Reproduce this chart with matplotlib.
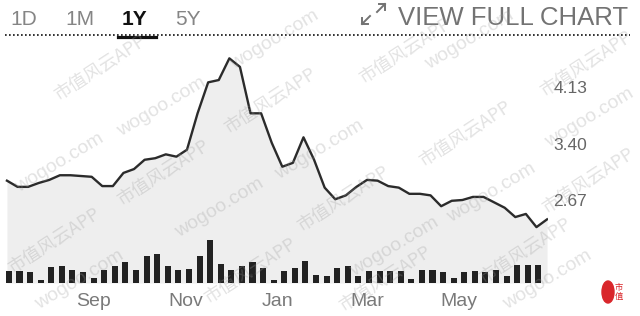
import matplotlib
matplotlib.use("Agg")
import matplotlib.pyplot as plt
import matplotlib.dates as mdates
import numpy as np
import pandas as pd
from matplotlib.lines import Line2D
from matplotlib.patches import Ellipse

# weekly closes and weekly volume
start_date = "2018-07-06"
prices = [2.92, 2.84, 2.84, 2.89, 2.93, 2.99, 2.99, 2.98, 2.97, 2.85,
          2.85, 3.02, 3.07, 3.19, 3.21, 3.26, 3.23, 3.32, 3.79, 4.19,
          4.22, 4.50, 4.39, 3.79, 3.79, 3.41, 3.10, 3.15, 3.48, 3.19,
          2.83, 2.68, 2.73, 2.84, 2.93, 2.92, 2.85, 2.83, 2.75, 2.75,
          2.73, 2.59, 2.66, 2.67, 2.71, 2.71, 2.64, 2.57, 2.45, 2.49,
          2.32, 2.42]
volumes = [12, 12, 11, 3, 16, 17, 13, 11, 5, 13, 17, 21, 13, 27, 29, 17,
           13, 14, 27, 43, 19, 13, 17, 21, 15, 3,
           12, 15, 22, 8, 7, 15, 17, 7, 12, 12, 12, 12, 4, 13, 13, 11,
           5, 11, 12, 11, 13, 7, 18, 18, 18]
price_ticks = [2.67, 3.40, 4.13]
ranges = ["1D", "1M", "1Y", "5Y"]
active_range = "1Y"

W, H = 640, 316


def fx(x):
    return x / W


def fy(y):
    # pixel rows counted from the top
    return 1 - y / H


dates = pd.date_range(start_date, periods=len(prices), freq="7D")
vol_dates = dates[:len(volumes)] + pd.Timedelta(hours=31)

fig = plt.figure(figsize=(W / 100, H / 100), dpi=100)
rect = [fx(5), fy(283), fx(543), 233 / H]

ax = fig.add_axes(rect)
ax.fill_between(dates, prices, 1.598, color="#eeeeee", lw=0)
ax.plot(dates, prices, color="#2b2b2b", lw=1.7, solid_joinstyle="round")
ax.set_ylim(1.598, 4.608)
ax.set_xlim(dates[0] - pd.Timedelta(hours=31), dates[-1] + pd.Timedelta(hours=15))
ax.yaxis.tick_right()
ax.set_yticks(price_ticks)
ax.set_yticklabels([f"{v:.2f}" for v in price_ticks])
ax.tick_params(axis="y", length=0, pad=4, labelsize=12.5, labelcolor="#666666")
ax.xaxis.set_major_locator(mdates.MonthLocator(bymonth=(1, 3, 5, 9, 11)))
ax.xaxis.set_major_formatter(mdates.DateFormatter("%b"))
ax.tick_params(axis="x", length=0, pad=7, labelsize=14, labelcolor="#7a7a7a")
for lab in ax.get_xticklabels() + ax.get_yticklabels():
    lab.set_family("Liberation Sans")
for s in ax.spines.values():
    s.set_visible(False)
ax.patch.set_visible(False)

axv = fig.add_axes(rect, sharex=ax)
axv.bar(vol_dates, volumes, width=4, color="#222222", align="center")
axv.set_ylim(0, 233)
axv.axis("off")

# range selector row
for label, x in zip(ranges, [10, 65, 122, 175]):
    on = label == active_range
    fig.text(fx(x), fy(25), label, fontsize=15, family="Liberation Sans",
             fontweight="bold" if on else "normal",
             color="#111111" if on else "#858585", va="baseline")
fig.text(fx(628), fy(25), "VIEW FULL CHART", fontsize=18.5,
         family="Liberation Sans", color="#737373", ha="right", va="baseline")
fig.add_artist(Line2D([fx(5), fx(630)], [fy(35), fy(35)], color="#111111",
                      lw=1.2, linestyle=(0, (1, 1.4))))
fig.add_artist(Line2D([fx(118), fx(156)], [fy(36.5), fy(36.5)],
                      color="#111111", lw=2.3))
fig.add_artist(Line2D([fx(362), fx(370)], [fy(24), fy(16)], color="#737373", lw=1.4))
fig.add_artist(Line2D([fx(377), fx(385)], [fy(12), fy(4)], color="#737373", lw=1.4))
fig.add_artist(Line2D([fx(362), fx(362), fx(368)], [fy(18), fy(24), fy(24)],
                      color="#737373", lw=1.4))
fig.add_artist(Line2D([fx(379), fx(385), fx(385)], [fy(4), fy(4), fy(10)],
                      color="#737373", lw=1.4))

# watermark
wm_cn = [(100, 67), (405, 50), (586, 63), (465, 133), (163, 172), (343, 198),
         (54, 240), (270, 100), (525, 250), (588, 180), (250, 270), (385, 278)]
wm_en = [(162, 107), (60, 163), (320, 150), (492, 193), (220, 208), (275, 40),
         (395, 247), (548, 280), (590, 118), (80, 280), (470, 40)]
for x, y in wm_cn:
    fig.text(fx(x), fy(y), "市值风云APP", rotation=33, fontsize=13,
             family=["Noto Sans CJK SC", "DejaVu Sans"], color="#999999",
             alpha=0.28, ha="center", va="center")
for x, y in wm_en:
    fig.text(fx(x), fy(y), "wogoo.com", rotation=31, fontsize=14,
             family="Liberation Sans", color="#999999", alpha=0.28,
             ha="center", va="center")

fig.add_artist(Ellipse((fx(608), fy(292)), fx(12), 22 / H, color="#d9262b",
                       transform=fig.transFigure))
fig.text(fx(619), fy(292), "市\n值", fontsize=6, color="#d9262b",
         family=["Noto Sans CJK SC"], ha="center", va="center", linespacing=1.0)

fig.savefig("out.png", dpi=100)
